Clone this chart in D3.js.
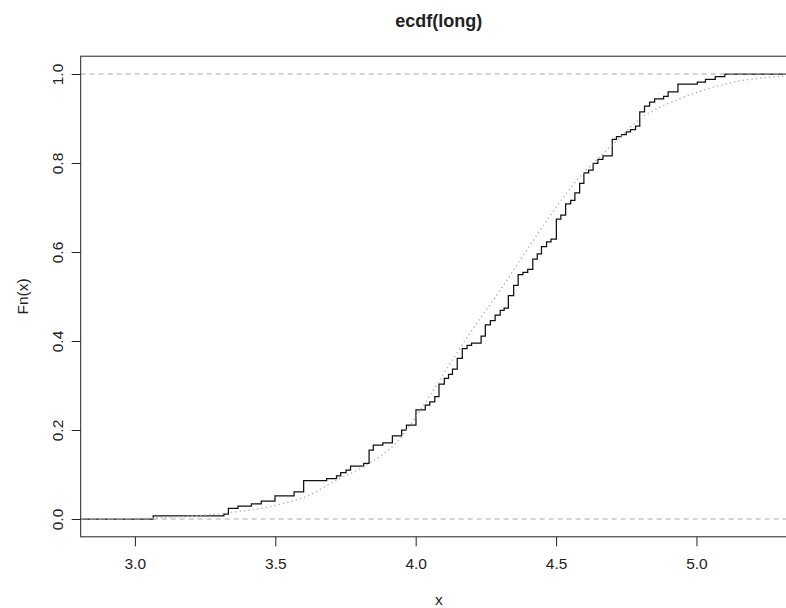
<!DOCTYPE html>
<html>
<head>
<meta charset="utf-8">
<script src="https://cdn.jsdelivr.net/npm/d3@7"></script>
<style>
  body { margin: 0; background: #fff; }
  text { font-family: "Liberation Sans", Arial, sans-serif; fill: #222; }
</style>
</head>
<body>
<script>
// jump points of the ecdf and the value of Fn after each jump
const knots = [
  3.065, 3.317, 3.333, 3.367, 3.415, 3.450, 3.499, 3.567, 3.601, 3.683,
  3.718, 3.733, 3.752, 3.768, 3.815, 3.834, 3.849, 3.883, 3.917, 3.950,
  3.967, 4.001, 4.034, 4.050, 4.068, 4.083, 4.102, 4.117, 4.131, 4.148,
  4.166, 4.183, 4.199, 4.233, 4.248, 4.266, 4.283, 4.301, 4.315, 4.330,
  4.349, 4.365, 4.382, 4.399, 4.417, 4.433, 4.448, 4.466, 4.482, 4.501,
  4.517, 4.534, 4.552, 4.567, 4.584, 4.599, 4.616, 4.632, 4.649, 4.667,
  4.700, 4.715, 4.733, 4.750, 4.765, 4.783, 4.798, 4.815, 4.833, 4.851,
  4.883, 4.899, 4.934, 5.003, 5.032, 5.067, 5.101,
];
const fn = [
  0.007, 0.011, 0.024, 0.029, 0.034, 0.040, 0.052, 0.061, 0.086, 0.091,
  0.097, 0.104, 0.110, 0.119, 0.125, 0.155, 0.166, 0.171, 0.187, 0.200,
  0.211, 0.245, 0.256, 0.263, 0.275, 0.303, 0.316, 0.325, 0.337, 0.361,
  0.383, 0.390, 0.395, 0.411, 0.436, 0.446, 0.458, 0.469, 0.474, 0.502,
  0.525, 0.549, 0.554, 0.561, 0.584, 0.596, 0.612, 0.623, 0.629, 0.674,
  0.683, 0.708, 0.716, 0.733, 0.754, 0.778, 0.784, 0.799, 0.808, 0.816,
  0.853, 0.859, 0.864, 0.870, 0.875, 0.883, 0.915, 0.928, 0.937, 0.944,
  0.950, 0.960, 0.977, 0.982, 0.988, 0.994, 1.000,
];

// dotted reference curve
const fitX = [2.81, 3.0, 3.093, 3.318, 3.496, 3.615, 3.72, 3.816, 3.934, 3.993,
  4.053, 4.185, 4.302, 4.42, 4.575, 4.694, 4.801, 4.943, 5.121, 5.36];
const fitY = [0.0003, 0.001, 0.003, 0.013, 0.03, 0.052, 0.088, 0.118, 0.174, 0.222,
  0.28, 0.41, 0.515, 0.627, 0.762, 0.837, 0.9, 0.945, 0.98, 0.997];

const xTicks = [3.0, 3.5, 4.0, 4.5, 5.0];
const yTicks = [0, 0.2, 0.4, 0.6, 0.8, 1.0];
const refLines = [0, 1];

const w = 786;
const h = 608;
const pLeft = 80.7, pRight = 797, pTop = 56.2, pBottom = 536.8;
const xMin = 2.807, xMax = 5.358;

const x = d3.scaleLinear().domain([xMin, xMax]).range([pLeft, pRight]);
const y = d3.scaleLinear().domain([-0.04, 1.04]).range([pBottom, pTop]);

const svg = d3.select("body").append("svg")
  .attr("width", w)
  .attr("height", h);

svg.append("rect").attr("width", w).attr("height", h).attr("fill", "#fff");

svg.append("clipPath").attr("id", "plot")
  .append("rect")
  .attr("x", pLeft).attr("y", pTop)
  .attr("width", pRight - pLeft).attr("height", pBottom - pTop);

const g = svg.append("g").attr("clip-path", "url(#plot)");

// ecdf staircase
const steps = [[xMin, 0]].concat(knots.map((k, i) => [k, fn[i]]), [[xMax, 1]]);
g.append("path")
  .datum(steps)
  .attr("fill", "none")
  .attr("stroke", "#111")
  .attr("stroke-width", 1.25)
  .attr("d", d3.line().x((d) => x(d[0])).y((d) => y(d[1])).curve(d3.curveStepAfter));

// dotted curve
g.append("path")
  .datum(fitX.map((v, i) => [v, fitY[i]]))
  .attr("fill", "none")
  .attr("stroke", "#b4b4b4")
  .attr("stroke-width", 1.4)
  .attr("stroke-dasharray", "1.4,3")
  .attr("d", d3.line().x((d) => x(d[0])).y((d) => y(d[1])).curve(d3.curveMonotoneX));

// dashed lines at 0 and 1
g.selectAll("line.ref")
  .data(refLines)
  .enter()
  .append("line")
  .attr("class", "ref")
  .attr("x1", pLeft).attr("x2", pRight)
  .attr("y1", (d) => y(d)).attr("y2", (d) => y(d))
  .attr("stroke", "#aaa")
  .attr("stroke-width", 1)
  .attr("stroke-dasharray", "5,4");

// axes
const xAxis = svg.append("g")
  .attr("transform", "translate(0," + pBottom + ")")
  .call(d3.axisBottom(x).tickValues(xTicks).tickFormat(d3.format(".1f")).tickSize(9.5).tickPadding(11.5));
xAxis.select(".domain").remove();
xAxis.selectAll("line").attr("stroke", "#222");
xAxis.selectAll("text")
  .attr("font-size", 15.5)
  .attr("font-family", "Liberation Sans, Arial, sans-serif")
  .attr("fill", "#222");

const yAxis = svg.append("g")
  .attr("transform", "translate(" + pLeft + ",0)")
  .call(d3.axisLeft(y).tickValues(yTicks).tickFormat(d3.format(".1f")).tickSize(9));
yAxis.select(".domain").remove();
yAxis.selectAll("line").attr("stroke", "#222");
yAxis.selectAll("text")
  .attr("x", null)
  .attr("dy", null)
  .attr("text-anchor", "middle")
  .attr("transform", "translate(-17.7,0) rotate(-90)")
  .attr("font-size", 15.5)
  .attr("font-family", "Liberation Sans, Arial, sans-serif")
  .attr("fill", "#222");

// box
svg.append("rect")
  .attr("x", pLeft).attr("y", pTop)
  .attr("width", pRight - pLeft).attr("height", pBottom - pTop)
  .attr("fill", "none")
  .attr("stroke", "#222")
  .attr("stroke-width", 1);

// titles
svg.append("text")
  .attr("x", (pLeft + pRight) / 2)
  .attr("y", 27)
  .attr("text-anchor", "middle")
  .attr("font-size", 18)
  .attr("font-weight", "bold")
  .text("ecdf(long)");

svg.append("text")
  .attr("x", (pLeft + pRight) / 2)
  .attr("y", 605)
  .attr("text-anchor", "middle")
  .attr("font-size", 15.5)
  .text("x");

svg.append("text")
  .attr("transform", "translate(28," + (pTop + pBottom) / 2 + ") rotate(-90)")
  .attr("text-anchor", "middle")
  .attr("font-size", 15.5)
  .text("Fn(x)");
</script>
</body>
</html>
